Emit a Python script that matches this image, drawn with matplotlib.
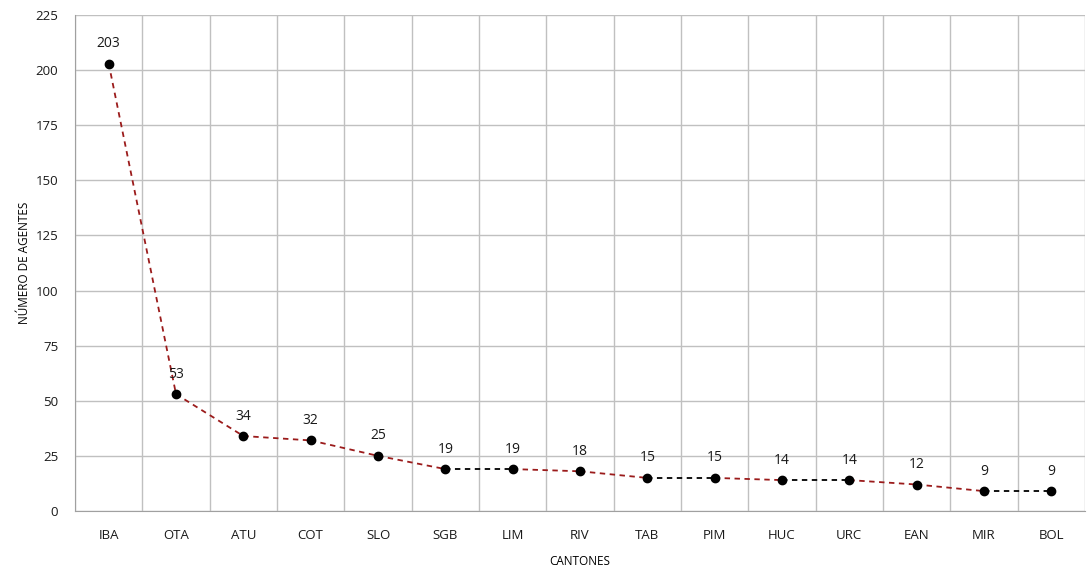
import matplotlib.pyplot as plt
import numpy as np

cantones = ['IBA', 'OTA', 'ATU', 'COT', 'SLO', 'SGB', 'LIM', 'RIV', 'TAB',
            'PIM', 'HUC', 'URC', 'EAN', 'MIR', 'BOL']
agentes = [203, 53, 34, 32, 25, 19, 19, 18, 15, 15, 14, 14, 12, 9, 9]

plt.rcParams['font.family'] = ['Open Sans', 'DejaVu Sans']

fig = plt.figure(figsize=(10.92, 5.69), dpi=100)
ax = fig.add_axes([0.0687, 0.102, 0.9249, 0.8716])

x = np.arange(len(cantones))

# segmentos: rojo donde cambia el valor, negro donde se mantiene
for i in range(len(x) - 1):
    color = 'black' if agentes[i] == agentes[i + 1] else '#9b1b1b'
    ax.plot(x[i:i + 2], agentes[i:i + 2], linestyle=(0, (3, 2.5)),
            color=color, linewidth=1.3, zorder=3)

ax.plot(x, agentes, linestyle='none', marker='o', color='black',
        markersize=6, zorder=4)

for xi, v in zip(x, agentes):
    ax.annotate(str(v), (xi, v), textcoords='offset points', xytext=(0, 9),
                ha='center', va='bottom', fontsize=10, color='#1a1a1a')

ax.set_xlim(-0.5, len(cantones) - 0.5)
ax.set_ylim(0, 225)
ax.set_yticks(np.arange(0, 226, 25))
ax.set_xticks(x)
ax.set_xticklabels(cantones)
ax.set_xticks(np.arange(-0.5, len(cantones), 1), minor=True)

ax.grid(True, axis='y', color='#c0c0c0', linewidth=1)
ax.grid(True, axis='x', which='minor', color='#c0c0c0', linewidth=1)
ax.grid(False, axis='x', which='major')
ax.set_axisbelow(True)

for s in ['top', 'right']:
    ax.spines[s].set_visible(False)
ax.spines['left'].set_color('#a0a0a0')
ax.spines['bottom'].set_color('#a0a0a0')

ax.tick_params(axis='both', which='both', length=0, labelsize=9.5,
               colors='#1a1a1a')
ax.tick_params(axis='x', pad=13)
ax.tick_params(axis='y', pad=12)

ax.set_xlabel('CANTONES', fontsize=8.5, labelpad=9)
ax.set_ylabel('NÚMERO DE AGENTES', fontsize=8.5, labelpad=3)

fig.savefig('out.png', dpi=100)
